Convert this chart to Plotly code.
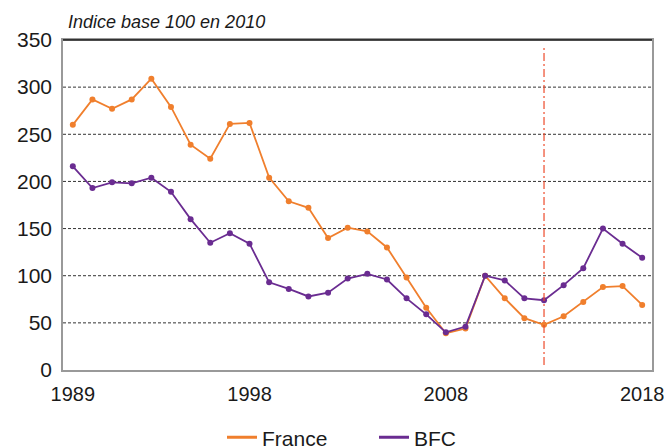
import plotly.graph_objects as go

years = list(range(1989, 2019))
france = [260, 287, 277, 287, 309, 279, 239, 224, 261, 262, 204, 179, 172, 140, 151,
          147, 130, 98, 66, 39, 44, 100, 76, 55, 48, 57, 72, 88, 89, 69]
bfc = [216, 193, 199, 198, 204, 189, 160, 135, 145, 134, 93, 86, 78, 82, 97,
       102, 96, 76, 59, 40, 46, 100, 95, 76, 74, 90, 108, 150, 134, 119]
x_ticks = [1989, 1998, 2008, 2018]
y_ticks = [0, 50, 100, 150, 200, 250, 300, 350]
marker_year = 2013

ORANGE = "#F07F2D"
PURPLE = "#6A2C91"

fig = go.Figure()
fig.add_trace(go.Scatter(x=years, y=france, name="France", mode="lines+markers",
                         line=dict(color=ORANGE, width=1.8),
                         marker=dict(size=6, color=ORANGE), showlegend=False))
fig.add_trace(go.Scatter(x=years, y=bfc, name="BFC", mode="lines+markers",
                         line=dict(color=PURPLE, width=1.8),
                         marker=dict(size=6, color=PURPLE), showlegend=False))
# legend entries (line only, as in the reference)
fig.add_trace(go.Scatter(x=[None], y=[None], name="France", mode="lines",
                         line=dict(color=ORANGE, width=3), legend="legend"))
fig.add_trace(go.Scatter(x=[None], y=[None], name="BFC", mode="lines",
                         line=dict(color=PURPLE, width=3), legend="legend2"))

for v in y_ticks[1:-1]:
    fig.add_hline(y=v, line=dict(color="#333333", width=1, dash="3px,2px"), layer="below")

fig.add_shape(type="line", xref="x", yref="paper", x0=marker_year, x1=marker_year,
              y0=0.015, y1=0.98, line=dict(color="#EE4B2B", width=1.2, dash="8px,3px,2px,3px"))
fig.add_shape(type="line", xref="paper", yref="paper", x0=0, x1=1, y0=1, y1=1,
              line=dict(color="#111111", width=1.5))

plot_w = 664 - 63 - 12
leg_common = dict(orientation="h", yanchor="middle", y=-0.205, xanchor="left",
                  font=dict(size=21), bgcolor="rgba(0,0,0,0)", borderwidth=0)
fig.update_layout(
    width=664, height=448,
    margin=dict(l=63, r=12, t=40, b=78, autoexpand=False),
    paper_bgcolor="white", plot_bgcolor="white",
    font=dict(family="Liberation Sans, Arial, sans-serif", size=21, color="#1a1a1a"),
    showlegend=True,
    legend=dict(leg_common, x=(222 - 63) / plot_w),
    legend2=dict(leg_common, x=(374 - 63) / plot_w),
    annotations=[dict(text="<i>Indice base 100 en 2010</i>", xref="paper", yref="paper",
                      x=(66 - 63) / plot_w, y=1.0, xanchor="left", yanchor="bottom", yshift=6,
                      showarrow=False, font=dict(size=18, color="#1a1a1a"))],
)
fig.update_xaxes(range=[1988.5, 2018.5], tickvals=x_ticks, showgrid=False,
                 showline=True, linecolor="#999999", linewidth=1.5, mirror=True,
                 ticks="", zeroline=False, automargin=False, ticklabelstandoff=5,
                 ticklabeloverflow="allow", tickfont=dict(size=20))
fig.update_yaxes(range=[0, 350], tickvals=y_ticks, showgrid=False,
                 showline=True, linecolor="#999999", linewidth=1.5, mirror=True,
                 ticks="", zeroline=False, automargin=False, ticklabelstandoff=5)

fig.write_html("out.html", config={"displayModeBar": False},
               post_script="document.body.style.margin='0';")
